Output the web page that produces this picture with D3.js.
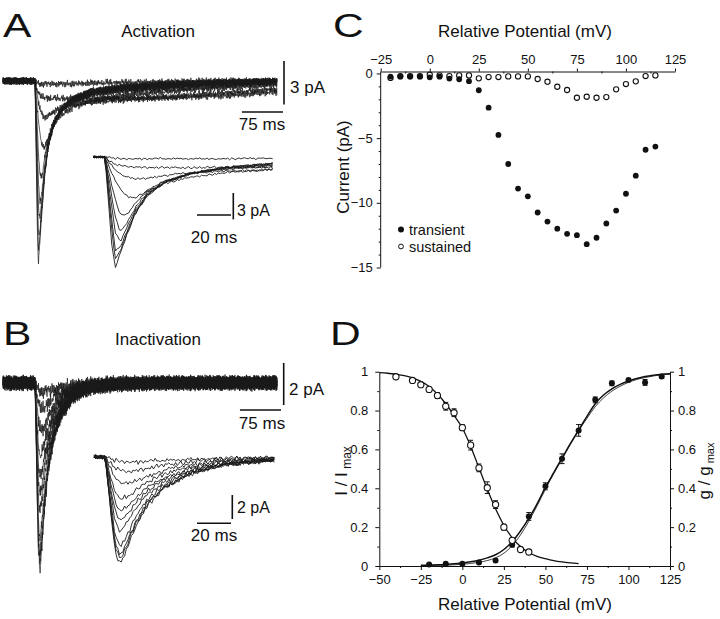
<!DOCTYPE html>
<html><head><meta charset="utf-8">
<script src="https://cdn.jsdelivr.net/npm/d3@7"></script>
<style>
body{margin:0;background:#fff}
svg{display:block}
text{font-family:"Liberation Sans",Arial,Helvetica,sans-serif;fill:#111}
</style>
</head><body>
<svg id="fig" width="720" height="619"></svg>
<script>
// ================= DATA =================
// Panel C : I-V relation
const cVoltages = [-20,-15,-10,-5,0,5,10,15,20,25,30,35,40,45,50,55,60,65,70,75,80,85,90,95,100,105,110,115];
const cTransient = [-0.25,-0.25,-0.25,-0.25,-0.3,-0.25,-0.4,-0.45,-0.6,-1.3,-2.65,-4.75,-7.0,-8.9,-9.5,-10.75,-11.45,-12.0,-12.4,-12.5,-13.2,-12.7,-11.6,-10.6,-9.3,-7.9,-5.9,-5.65];
const cSustained = [-0.35,-0.2,-0.2,-0.2,-0.1,-0.15,-0.2,-0.15,-0.15,-0.38,-0.28,-0.28,-0.23,-0.23,-0.23,-0.43,-0.64,-1.03,-1.28,-1.88,-1.8,-1.88,-1.83,-1.23,-0.82,-0.61,-0.2,-0.15];
const cXTicks = [-25,0,25,50,75,100,125];
const cXMinor = [-12.5,12.5,37.5,62.5,87.5,112.5];
const cYTicks = [0,-5,-10,-15];
const cYMinor = [-1,-2,-3,-4,-6,-7,-8,-9,-11,-12,-13,-14];

// Panel D : activation / inactivation
const dInactV = [-40,-30,-25,-20,-15,-10,-5,0,5,10,15,20,25,30,35,40];
const dInact = [0.974,0.955,0.933,0.909,0.877,0.822,0.789,0.712,0.622,0.505,0.403,0.316,0.2,0.132,0.085,0.072];
const dInactErr = [0.005,0.006,0.008,0.01,0.015,0.02,0.02,0.015,0.025,0.02,0.03,0.02,0.015,0.012,0.008,0.005];
const dActV = [-20,-10,0,10,20,30,40,50,60,70,80,90,100,110,120];
const dAct = [0.008,0.011,0.011,0.018,0.028,0.11,0.255,0.41,0.552,0.698,0.855,0.94,0.957,0.945,0.975];
const dActErr = [0.003,0.004,0.005,0.006,0.008,0.012,0.02,0.018,0.025,0.03,0.015,0.012,0.008,0.015,0.01];
const dFitInactV = [-50,-45,-40,-35,-30,-25,-20,-15,-10,-5,0,5,10,15,20,25,30,35,40,45,50,55,60,65,70];
const dFitInact = [0.995,0.992,0.987,0.98,0.968,0.95,0.924,0.885,0.835,0.775,0.71,0.615,0.505,0.395,0.295,0.21,0.145,0.1,0.068,0.05,0.038,0.028,0.021,0.016,0.012];
const dFitActV = [-25,-20,-15,-10,-5,0,5,10,15,20,25,30,35,40,45,50,55,60,65,70,75,80,85,90,95,100,105,110,115,120,125];
const dFitActThick = [0.004,0.005,0.006,0.008,0.011,0.016,0.022,0.03,0.042,0.058,0.085,0.125,0.18,0.245,0.32,0.405,0.48,0.555,0.63,0.70,0.77,0.835,0.88,0.912,0.935,0.952,0.965,0.975,0.982,0.987,0.99];
const dFitActThin = [0.001,0.002,0.003,0.004,0.006,0.009,0.013,0.019,0.028,0.042,0.066,0.105,0.16,0.23,0.31,0.395,0.475,0.55,0.625,0.695,0.76,0.82,0.865,0.9,0.925,0.945,0.96,0.97,0.978,0.984,0.988];
const dXTicks = [-50,-25,0,25,50,75,100,125];
const dXMinor = [-37.5,-12.5,12.5,37.5,62.5,87.5,112.5];
const dYTicks = [0,0.2,0.4,0.6,0.8,1];
const dYMinor = [0.1,0.3,0.5,0.7,0.9];

// Panels A, B : current traces (pA) read at these times (ms, relative to step onset)
const traceTimes = [-60,0,2,4,6,9,13,18,25,35,50,70,100,160,250,350,460];
const activationTraces = [
  [0,0,-0.05,-0.1,-0.15,-0.2,-0.2,-0.2,-0.2,-0.2,-0.2,-0.2,-0.15,-0.1,-0.05,0,0],
  [0,0,-0.3,-0.6,-0.8,-1.0,-1.1,-1.15,-1.2,-1.2,-1.2,-1.2,-1.2,-1.2,-1.15,-1.0,-0.7],
  [0,0,-0.5,-1.0,-1.4,-1.9,-2.3,-2.5,-2.4,-2.1,-1.8,-1.6,-1.45,-1.3,-1.1,-0.8,-0.5],
  [0,0,-0.9,-1.8,-2.6,-3.6,-4.5,-4.6,-3.9,-3.0,-2.3,-1.8,-1.4,-1.0,-0.7,-0.45,-0.2],
  [0,0,-1.5,-3.2,-4.8,-6.5,-6.6,-5.2,-3.8,-2.7,-1.9,-1.4,-1.0,-0.7,-0.5,-0.3,-0.1],
  [0,0,-2.1,-4.4,-6.8,-8.5,-7.5,-5.7,-4.0,-2.8,-1.9,-1.3,-0.9,-0.6,-0.4,-0.2,0],
  [0,0,-2.7,-5.6,-8.5,-9.6,-8.0,-6.0,-4.2,-2.9,-1.9,-1.3,-0.8,-0.5,-0.3,-0.1,0],
  [0,0,-3.4,-7.1,-10.6,-10.3,-8.4,-6.2,-4.3,-2.9,-1.9,-1.2,-0.8,-0.4,-0.2,-0.1,0],
  [0,0,-4.0,-8.2,-11.6,-10.7,-8.6,-6.3,-4.3,-2.9,-1.9,-1.2,-0.7,-0.4,-0.2,-0.1,0],
  [0,0,-4.8,-9.8,-12.7,-11.0,-8.8,-6.4,-4.4,-2.9,-1.9,-1.2,-0.7,-0.4,-0.2,-0.1,0]
];
const inactivationTraces = [
  [0,0,-0.1,-0.2,-0.3,-0.35,-0.4,-0.4,-0.35,-0.3,-0.2,-0.1,-0.05,0,0,0,0],
  [0,0,-0.3,-0.6,-0.9,-1.15,-1.25,-1.15,-0.95,-0.65,-0.4,-0.2,-0.05,0,0,0,0],
  [0,0,-0.6,-1.2,-1.7,-2.1,-2.25,-2.0,-1.6,-1.1,-0.65,-0.3,-0.1,0,0,0,0],
  [0,0,-1.0,-2.0,-2.9,-3.5,-3.3,-2.8,-2.1,-1.4,-0.8,-0.4,-0.15,0,0,0,0],
  [0,0,-1.3,-2.6,-3.8,-4.5,-4.2,-3.4,-2.5,-1.7,-1.0,-0.5,-0.2,-0.05,0,0,0],
  [0,0,-1.5,-3.1,-4.6,-5.3,-4.8,-3.8,-2.8,-1.9,-1.1,-0.5,-0.2,-0.05,0,0,0],
  [0,0,-1.8,-3.7,-5.4,-6.2,-5.5,-4.3,-3.1,-2.1,-1.2,-0.6,-0.25,-0.05,0,0,0],
  [0,0,-2.2,-4.5,-6.6,-7.5,-6.5,-5.0,-3.5,-2.3,-1.3,-0.6,-0.25,-0.05,0,0,0],
  [0,0,-2.4,-4.9,-7.2,-8.2,-7.0,-5.4,-3.8,-2.5,-1.4,-0.65,-0.25,-0.05,0,0,0],
  [0,0,-2.5,-5.2,-7.6,-8.6,-7.3,-5.6,-3.9,-2.5,-1.4,-0.65,-0.25,-0.05,0,0,0],
  [0,0,-2.6,-5.4,-7.9,-9.0,-7.6,-5.8,-4.0,-2.6,-1.4,-0.65,-0.25,-0.05,0,0,0]
];
// recording noise texture (hand-typed, unitless)
const noiseA = [0.42,-0.81,0.13,0.67,-0.35,-0.92,0.58,0.04,-0.47,0.88,-0.19,0.31,-0.73,0.95,-0.06,-0.58,0.24,0.77,-0.88,0.12,0.51,-0.29,-0.64,0.83,-0.11,0.37,-0.97,0.62,0.08,-0.43,0.71,-0.26,-0.79,0.45,0.18,-0.55,0.92,-0.33,0.03,-0.69,0.56,0.27,-0.84,0.39,-0.14,0.66,-0.52,0.85,-0.38,-0.02,0.74,-0.91,0.21,0.48,-0.66,0.15,-0.24,0.99,-0.45,0.33,-0.76];
const noiseB = [-0.55,0.28,0.91,-0.12,-0.74,0.46,0.05,-0.37,0.69,-0.86,0.22,0.58,-0.18,-0.63,0.81,0.09,-0.49,0.35,-0.95,0.64,-0.08,0.43,-0.71,0.17,0.87,-0.31,-0.59,0.26,0.72,-0.44,0.01,-0.82,0.53,0.19,-0.27,0.93,-0.65,0.36,-0.15,0.61,-0.89,0.11,0.47,-0.53,0.78,-0.21,-0.04];

// ================= DRAWING =================
const svg = d3.select('#fig');
svg.append('rect').attr('width',720).attr('height',619).attr('fill','#fff');
const INK = '#111';

function txt(s, x, y, size, anchor) {
  return svg.append('text').attr('x', x).attr('y', y).attr('font-size', size)
    .attr('text-anchor', anchor || 'start').text(s);
}
function letter(s, x, y) {
  svg.append('text').attr('transform', `translate(${x},${y}) scale(1.25,1)`)
    .attr('font-size', 34).text(s);
}
letter('A', 3, 37); letter('C', 333, 37); letter('B', 3, 345); letter('D', 330, 345);

// ---- traces
function noise(i, k) {
  return 0.6 * noiseA[(i + 13 * k) % noiseA.length] + 0.4 * noiseB[(i * 3 + 7 * k) % noiseB.length];
}
function drawTraces(traces, x, y, dt, amp, width) {
  const g = svg.append('g');
  const [t0, t1] = x.domain();
  const n = Math.round((t1 - t0) / dt);
  const line = d3.line().x(d => x(d[0])).y(d => y(d[1]));
  traces.forEach((vals, k) => {
    const shape = d3.scaleLinear().domain(traceTimes).range(vals).clamp(true);
    const pts = d3.range(n + 1).map(i => {
      const t = t0 + i * dt;
      return [t, shape(t) + amp * noise(i, k)];
    });
    g.append('path').attr('d', line(pts)).attr('fill', 'none')
      .attr('stroke', '#1a1a1a').attr('stroke-width', width).attr('stroke-linejoin', 'round');
  });
}
function bar(x1, y1, x2, y2) {
  svg.append('line').attr('x1', x1).attr('y1', y1).attr('x2', x2).attr('y2', y2)
    .attr('stroke', INK).attr('stroke-width', 1.6);
}

// Panel A
txt('Activation', 158, 37, 17, 'middle');
const aMainX = d3.scaleLinear().domain([-58.5, 442]).range([3, 277]);
const aMainY = d3.scaleLinear().domain([0, -1]).range([81, 95.5]);
drawTraces(activationTraces, aMainX, aMainY, 0.6, 0.3, 0.7);
const aInX = d3.scaleLinear().domain([-7, 98.8]).range([93, 273]);
const aInY = d3.scaleLinear().domain([0, -1]).range([157, 165.8]);
drawTraces(activationTraces, aInX, aInY, 1.1, 0.17, 0.9);
bar(284, 61, 284, 61 + aMainY(-3) - aMainY(0));
bar(283 - (aMainX(75) - aMainX(0)), 112, 283, 112);
txt('3 pA', 290, 93, 17); txt('75 ms', 262, 130, 17, 'middle');
bar(233.3, 193, 233.3, 193 + aInY(-3) - aInY(0));
bar(197, 215, 197 + aInX(20) - aInX(0), 215);
txt('3 pA', 237, 216, 16); txt('20 ms', 214, 243, 17, 'middle');

// Panel B
txt('Inactivation', 158, 345, 17, 'middle');
const bMainX = d3.scaleLinear().domain([-58.5, 442]).range([3, 277]);
const bMainY = d3.scaleLinear().domain([0, -1]).range([383, 404]);
drawTraces(inactivationTraces, bMainX, bMainY, 0.6, 0.42, 0.7);
const bInX = d3.scaleLinear().domain([-6.5, 99.4]).range([94, 274]);
const bInY = d3.scaleLinear().domain([0, -1]).range([457, 469]);
drawTraces(inactivationTraces, bInX, bInY, 1.0, 0.25, 0.9);
bar(283.7, 363, 283.7, 363 + bMainY(-2) - bMainY(0));
bar(281 - (bMainX(75) - bMainX(0)), 410, 281, 410);
txt('2 pA', 289, 395, 17); txt('75 ms', 262, 429, 17, 'middle');
bar(232.3, 495, 232.3, 495 + bInY(-2) - bInY(0));
bar(197, 523.3, 197 + bInX(20) - bInX(0), 523.3);
txt('2 pA', 237, 513, 16); txt('20 ms', 214, 541, 17, 'middle');

// ---- axis styling helper
function styleAxis(g) {
  g.selectAll('path.domain').attr('stroke', INK).attr('stroke-width', 1);
  g.selectAll('.tick line').attr('stroke', INK);
  g.selectAll('.tick text').attr('font-size', 13).attr('fill', INK)
    .attr('font-family', '"Liberation Sans",Arial,Helvetica,sans-serif');
}

// Panel C
const cx = d3.scaleLinear().domain([-25, 125]).range([380.7, 675]);
const cy = d3.scaleLinear().domain([-15, 0.15]).range([267.5, 71.5]);
const cTop = svg.append('g').attr('transform', `translate(0,${cy(0.15)})`)
  .call(d3.axisTop(cx).tickValues(cXTicks).tickFormat(d3.format('d')).tickSize(3).tickSizeOuter(0).tickPadding(5));
styleAxis(cTop);
const cTopMinor = svg.append('g').attr('transform', `translate(0,${cy(0.15)})`)
  .call(d3.axisBottom(cx).tickValues(cXMinor).tickFormat('').tickSize(2).tickSizeOuter(0));
styleAxis(cTopMinor); cTopMinor.select('path.domain').remove();
const cLeft = svg.append('g').attr('transform', `translate(${cx(-25)},0)`)
  .call(d3.axisLeft(cy).tickValues(cYTicks).tickFormat(d3.format('d')).tickSize(4).tickSizeOuter(0).tickPadding(4));
styleAxis(cLeft);
cLeft.select('path.domain').attr('d', `M0,${cy(0.15)}V${cy(-15)}`);
const cLeftMinor = svg.append('g').attr('transform', `translate(${cx(-25)},0)`)
  .call(d3.axisLeft(cy).tickValues(cYMinor).tickFormat('').tickSize(2).tickSizeOuter(0));
styleAxis(cLeftMinor); cLeftMinor.select('path.domain').remove();
txt('Relative Potential (mV)', 525, 37, 17, 'middle');
svg.append('text').attr('transform', 'translate(349,167) rotate(-90)')
  .attr('text-anchor', 'middle').attr('font-size', 17).text('Current (pA)');

const cIdx = d3.range(cVoltages.length);
svg.append('g').selectAll('circle').data(cIdx).join('circle')
  .attr('cx', i => cx(cVoltages[i])).attr('cy', i => cy(cSustained[i])).attr('r', 2.6)
  .attr('fill', '#fff').attr('stroke', INK).attr('stroke-width', 1.1);
svg.append('g').selectAll('circle').data(cIdx).join('circle')
  .attr('cx', i => cx(cVoltages[i])).attr('cy', i => cy(cTransient[i])).attr('r', 2.9)
  .attr('fill', INK);
// legend
svg.append('circle').attr('cx', 401).attr('cy', 229.5).attr('r', 3).attr('fill', INK);
svg.append('circle').attr('cx', 401).attr('cy', 246.5).attr('r', 2.4).attr('fill', '#fff')
  .attr('stroke', INK).attr('stroke-width', 1);
txt('transient', 409, 234.5, 14.5); txt('sustained', 409, 251.5, 14.5);

// Panel D
const dx = d3.scaleLinear().domain([-50, 125]).range([379.3, 670]);
const dy = d3.scaleLinear().domain([0, 1]).range([566, 371.7]);
const dBottom = svg.append('g').attr('transform', `translate(0,${dy(0)})`)
  .call(d3.axisBottom(dx).tickValues(dXTicks).tickFormat(d3.format('d')).tickSize(4).tickSizeOuter(0).tickPadding(5));
styleAxis(dBottom);
const dBottomMinor = svg.append('g').attr('transform', `translate(0,${dy(0)})`)
  .call(d3.axisBottom(dx).tickValues(dXMinor).tickFormat('').tickSize(2).tickSizeOuter(0));
styleAxis(dBottomMinor); dBottomMinor.select('path.domain').remove();
const fmtD = d => d === 0 || d === 1 ? String(d) : d3.format('.1f')(d);
const dLeft = svg.append('g').attr('transform', `translate(${dx(-50)},0)`)
  .call(d3.axisLeft(dy).tickValues(dYTicks).tickFormat(fmtD).tickSize(4).tickSizeOuter(0).tickPadding(7));
styleAxis(dLeft);
const dLeftMinor = svg.append('g').attr('transform', `translate(${dx(-50)},0)`)
  .call(d3.axisLeft(dy).tickValues(dYMinor).tickFormat('').tickSize(2).tickSizeOuter(0));
styleAxis(dLeftMinor); dLeftMinor.select('path.domain').remove();
const dRight = svg.append('g').attr('transform', `translate(${dx(125)},0)`)
  .call(d3.axisRight(dy).tickValues(dYTicks).tickFormat(fmtD).tickSize(4).tickSizeOuter(0).tickPadding(4));
styleAxis(dRight);
const dRightMinor = svg.append('g').attr('transform', `translate(${dx(125)},0)`)
  .call(d3.axisRight(dy).tickValues(dYMinor).tickFormat('').tickSize(2).tickSizeOuter(0));
styleAxis(dRightMinor); dRightMinor.select('path.domain').remove();

txt('Relative Potential (mV)', 525, 610, 17, 'middle');
const yl = svg.append('text').attr('transform', 'translate(347,471) rotate(-90)')
  .attr('text-anchor', 'middle').attr('font-size', 17);
yl.append('tspan').text('I / I');
yl.append('tspan').attr('font-size', 12).attr('dy', 4).text(' max');
const yr = svg.append('text').attr('transform', 'translate(710,471) rotate(-90)')
  .attr('text-anchor', 'middle').attr('font-size', 17);
yr.append('tspan').text('g / g');
yr.append('tspan').attr('font-size', 11).attr('dy', 3.5).text(' max');

const curve = d3.line().curve(d3.curveMonotoneX);
function fit(vs, ys, w) {
  svg.append('path').attr('d', curve(vs.map((v, i) => [dx(v), dy(ys[i])])))
    .attr('fill', 'none').attr('stroke', INK).attr('stroke-width', w);
}
fit(dFitActV, dFitActThin, 0.8);
fit(dFitActV, dFitActThick, 1.5);
fit(dFitInactV, dFitInact, 1.3);

function errBars(vs, ys, es) {
  const g = svg.append('g').attr('stroke', INK).attr('stroke-width', 1);
  vs.forEach((v, i) => {
    const x = dx(v), y1 = dy(ys[i] - es[i]), y2 = dy(ys[i] + es[i]);
    g.append('line').attr('x1', x).attr('x2', x).attr('y1', y1).attr('y2', y2);
    g.append('line').attr('x1', x - 2.5).attr('x2', x + 2.5).attr('y1', y1).attr('y2', y1);
    g.append('line').attr('x1', x - 2.5).attr('x2', x + 2.5).attr('y1', y2).attr('y2', y2);
  });
}
errBars(dActV, dAct, dActErr);
errBars(dInactV, dInact, dInactErr);
const aIdx = d3.range(dActV.length), iIdx = d3.range(dInactV.length);
svg.append('g').selectAll('circle').data(aIdx).join('circle')
  .attr('cx', i => dx(dActV[i])).attr('cy', i => dy(dAct[i])).attr('r', 3).attr('fill', INK);
svg.append('g').selectAll('circle').data(iIdx).join('circle')
  .attr('cx', i => dx(dInactV[i])).attr('cy', i => dy(dInact[i])).attr('r', 3.1)
  .attr('fill', '#fff').attr('stroke', INK).attr('stroke-width', 1.1);
</script>
</body></html>
